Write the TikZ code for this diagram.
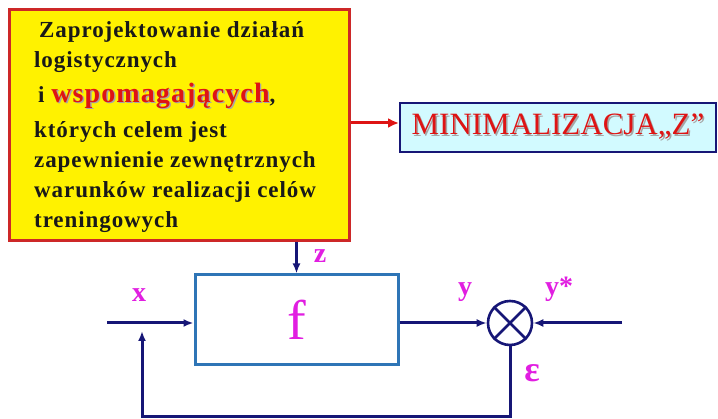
\documentclass[tikz,border=0pt]{standalone}
\usepackage{fontspec}
\setmainfont{Liberation Serif}
\newfontfamily\boxfont[LetterSpace=4]{Liberation Serif}
\usetikzlibrary{arrows.meta}
\definecolor{navy}{RGB}{22,22,118}
\definecolor{boxred}{RGB}{205,40,40}
\definecolor{lightcyan}{RGB}{210,250,255}
\definecolor{steel}{RGB}{46,117,182}
\definecolor{mag}{RGB}{225,30,225}
\definecolor{txtred}{RGB}{222,20,20}
\newcommand{\shadowword}[1]{\makebox[0pt][l]{\raisebox{-1.2pt}{\hspace{1.5pt}\textcolor{black!35}{#1}}}\textcolor{txtred}{#1}}
\tikzset{
  conn/.style={draw=navy, line width=3pt, -{Latex[length=10pt,width=8pt]}},
  plainconn/.style={draw=navy, line width=2.6pt},
  lbl/.style={text=mag, font=\fontsize{28}{28}\selectfont\bfseries, inner sep=0pt},
}
\begin{document}
\begin{tikzpicture}[x=1pt,y=-1pt]
\useasboundingbox (0,0) rectangle (718,419);
% yellow box
\node[draw=boxred, line width=2.6pt, fill=yellow, minimum width=340pt, minimum height=231pt, anchor=north west, inner sep=0pt] (ybox) at (8,8) {};
\node[anchor=north west, align=left, inner sep=0pt, font=\boxfont\fontsize{23}{30}\selectfont\bfseries, text=black!90] (txt) at (34,21.3)
{\hspace{5pt}Zaprojektowanie działań\\
logistycznych\\[5pt]
\hspace{4pt}i {\fontsize{28}{30}\selectfont\shadowword{wspomagających}},\\[5pt]
których celem jest\\
zapewnienie zewnętrznych\\
warunków realizacji celów\\
treningowych};
% minimalizacja box
\node[draw=navy, line width=2pt, fill=lightcyan, minimum width=316pt, minimum height=49pt, inner sep=0pt,
      font=\fontsize{31}{31}\selectfont] (mini) at (558,127.5) {\shadowword{MINIMALIZACJA„Z”}};
\draw[draw=txtred, line width=3pt, -{Latex[length=11pt,width=10pt]}] (351,123) coordinate (rs) -- (rs -| mini.west);
% block f
\node[draw=steel, line width=3pt, minimum width=203pt, minimum height=90pt, inner sep=0pt,
      text=mag, font=\fontsize{56}{56}\selectfont] (blk) at (296.5,320) {f};
% summation
\node[draw=navy, circle, line width=2.6pt, minimum size=44pt, inner sep=0pt] (sum) at (510,323) {};
\draw[plainconn] (sum.north east) -- (sum.south west);
\draw[plainconn] (sum.north west) -- (sum.south east);
% connectors
\draw[conn] (ybox.south -| blk.north) -- (blk.north);
\coordinate (xin) at (107,323);
\draw[conn] (xin) -- (xin -| blk.west);
\draw[conn] (blk.east |- sum.west) -- (sum.west);
\coordinate (ystar) at (622,323);
\draw[conn] (ystar) -- (sum.east);
\coordinate (bot) at (510,417);
\coordinate (fbend) at (142,331);
\draw[conn] (sum.south) -- (bot) -| (fbend);
% labels
\node[lbl] (lz) at (320,256) {z};
\node[lbl] (lx) at (139,295) {x};
\node[lbl] (ly) at (465,292) {y};
\node[lbl] (lys) at (559,289) {y*};
\node[text=mag, font=\fontsize{36}{36}\selectfont\bfseries, inner sep=0pt] (leps) at (532,373) {ε};
\end{tikzpicture}
\end{document}
